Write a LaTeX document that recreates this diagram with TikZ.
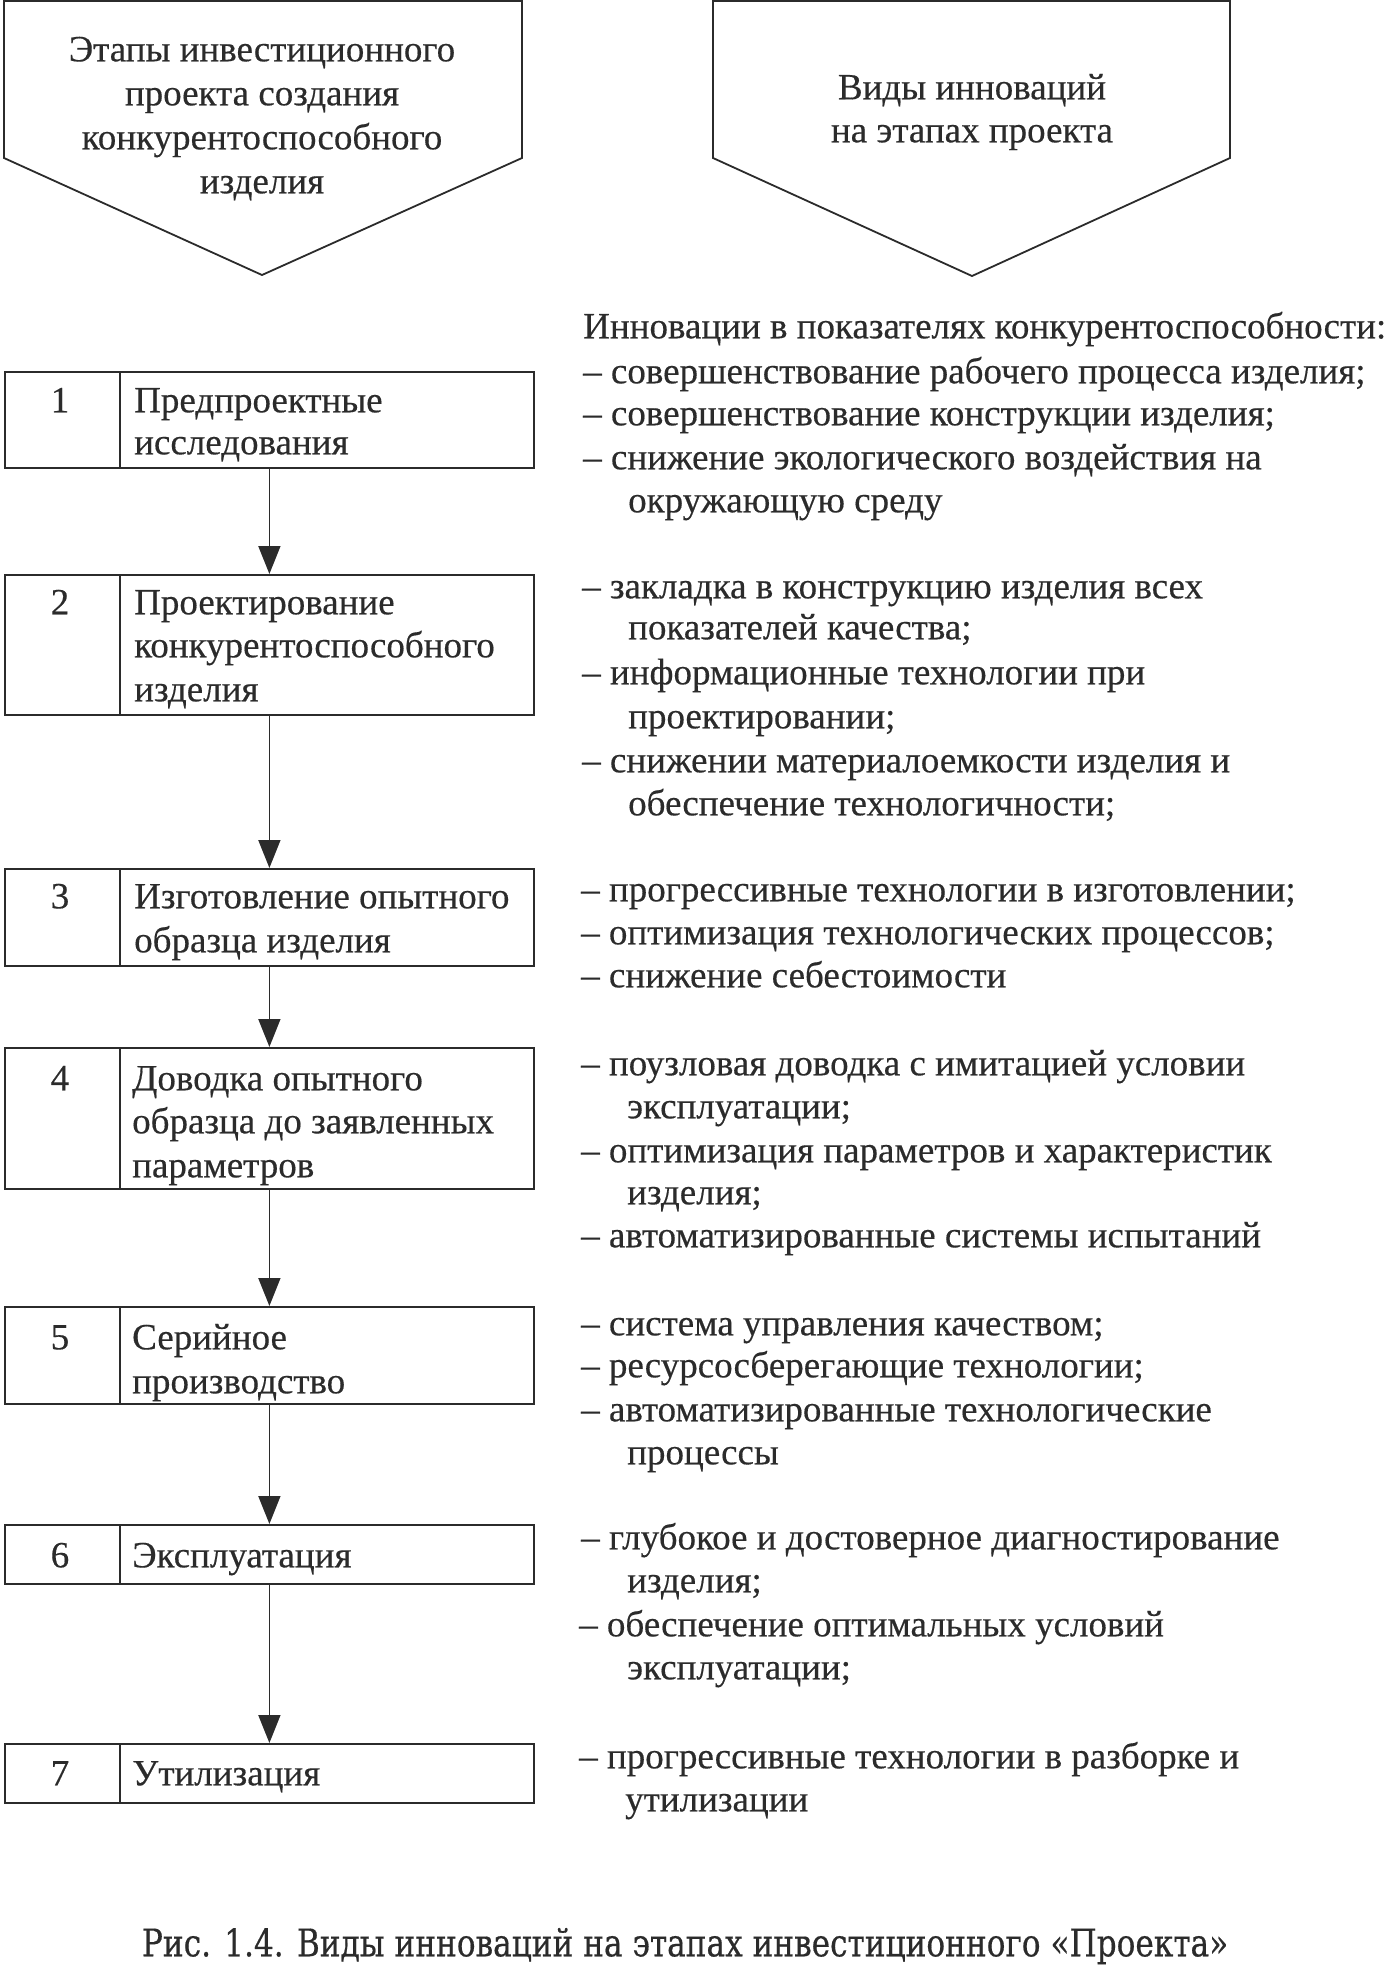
\documentclass[tikz,border=0pt]{standalone}
\usepackage{fontspec}
\setmainfont[FakeBold=0.4]{Liberation Serif}
\newfontfamily\capfont[FakeStretch=0.82,FakeBold=0.5]{DejaVu Serif}
\usetikzlibrary{arrows.meta}
\definecolor{ink}{gray}{0.17}
\begin{document}
\begin{tikzpicture}[x=1pt,y=-1pt,
  every node/.style={text=ink, font=\fontsize{37}{43}\selectfont, inner sep=0pt},
  frame/.style={draw=ink, line width=1.8pt},
  stagebox/.style={frame, minimum width=529pt, anchor=north west},
  lbl/.style={anchor=mid west, yshift=-9pt},
  num/.style={anchor=mid, yshift=-9pt},
  ctr/.style={anchor=mid, yshift=-9pt},
  arr/.style={draw=ink, line width=1.6pt, -{Triangle[length=28pt,width=22pt]}},
]
\useasboundingbox (0,0) rectangle (1387,1979);

% header pentagons
\draw[frame] (4,1) -- (522,1) -- (522,158) -- (262,275) -- (4,158) -- cycle;
\draw[frame] (713,1) -- (1230,1) -- (1230,158) -- (972,276) -- (713,158) -- cycle;
\node[ctr] (h1a) at (262,50) {Этапы инвестиционного};
\node[ctr] (h1b) at (262,94) {проекта создания};
\node[ctr] (h1c) at (262,138) {конкурентоспособного};
\node[ctr] (h1d) at (262,182) {изделия};
\node[ctr] (h2a) at (972,88) {Виды инноваций};
\node[ctr] (h2b) at (972,131) {на этапах проекта};

% stage boxes
\node[stagebox, minimum height=96pt] (b1) at (4,371) {};
\node[stagebox, minimum height=140pt] (b2) at (4,574) {};
\node[stagebox, minimum height=97pt] (b3) at (4,868) {};
\node[stagebox, minimum height=141pt] (b4) at (4,1047) {};
\node[stagebox, minimum height=97pt] (b5) at (4,1306) {};
\node[stagebox, minimum height=59pt] (b6) at (4,1524) {};
\node[stagebox, minimum height=59pt] (b7) at (4,1743) {};
\foreach \b in {b1,b2,b3,b4,b5,b6,b7}
  \draw[frame] ([xshift=116pt]\b.north west) -- ([xshift=116pt]\b.south west);

\node[num] (n1) at (60,401) {1};
\node[num] (n2) at (60,603) {2};
\node[num] (n3) at (60,897) {3};
\node[num] (n4) at (60,1079) {4};
\node[num] (n5) at (60,1338) {5};
\node[num] (n6) at (60,1556) {6};
\node[num] (n7) at (60,1774) {7};

\node[lbl] (s1a) at (134,401) {Предпроектные};
\node[lbl] (s1b) at (134,443) {исследования};
\node[lbl] (s2a) at (134,603) {Проектирование};
\node[lbl] (s2b) at (134,646) {конкурентоспособного};
\node[lbl] (s2c) at (134,690) {изделия};
\node[lbl] (s3a) at (134,897) {Изготовление опытного};
\node[lbl] (s3b) at (134,941) {образца изделия};
\node[lbl] (s4a) at (132,1079) {Доводка опытного};
\node[lbl] (s4b) at (132,1122) {образца до заявленных};
\node[lbl] (s4c) at (132,1166) {параметров};
\node[lbl] (s5a) at (132,1338) {Серийное};
\node[lbl] (s5b) at (132,1382) {производство};
\node[lbl] (s6a) at (132,1556) {Эксплуатация};
\node[lbl] (s7a) at (132,1774) {Утилизация};

% arrows
\draw[arr] (b1.south) -- (b2.north);
\draw[arr] (b2.south) -- (b3.north);
\draw[arr] (b3.south) -- (b4.north);
\draw[arr] (b4.south) -- (b5.north);
\draw[arr] (b5.south) -- (b6.north);
\draw[arr] (b6.south) -- (b7.north);

% innovations text
\node[lbl] (r0) at (583,327) {Инновации в показателях конкурентоспособности:};
\node[lbl] (r1a) at (583,372) {– совершенствование рабочего процесса изделия;};
\node[lbl] (r1b) at (583,414) {– совершенствование конструкции изделия;};
\node[lbl] (r1c) at (583,458) {– снижение экологического воздействия на};
\node[lbl] (r1d) at (628,501) {окружающую среду};

\node[lbl] (r2a) at (582,587) {– закладка в конструкцию изделия всех};
\node[lbl] (r2b) at (628,628) {показателей качества;};
\node[lbl] (r2c) at (582,673) {– информационные технологии при};
\node[lbl] (r2d) at (628,717) {проектировании;};
\node[lbl] (r2e) at (582,761) {– снижении материалоемкости изделия и};
\node[lbl] (r2f) at (628,804) {обеспечение технологичности;};

\node[lbl] (r3a) at (581,890) {– прогрессивные технологии в изготовлении;};
\node[lbl] (r3b) at (581,933) {– оптимизация технологических процессов;};
\node[lbl] (r3c) at (581,976) {– снижение себестоимости};

\node[lbl] (r4a) at (581,1064) {– поузловая доводка с имитацией условии};
\node[lbl] (r4b) at (627,1107) {эксплуатации;};
\node[lbl] (r4c) at (581,1151) {– оптимизация параметров и характеристик};
\node[lbl] (r4d) at (627,1193) {изделия;};
\node[lbl] (r4e) at (581,1236) {– автоматизированные системы испытаний};

\node[lbl] (r5a) at (581,1324) {– система управления качеством;};
\node[lbl] (r5b) at (581,1366) {– ресурсосберегающие технологии;};
\node[lbl] (r5c) at (581,1410) {– автоматизированные технологические};
\node[lbl] (r5d) at (627,1453) {процессы};

\node[lbl] (r6a) at (581,1538) {– глубокое и достоверное диагностирование};
\node[lbl] (r6b) at (627,1581) {изделия;};
\node[lbl] (r6c) at (579,1625) {– обеспечение оптимальных условий};
\node[lbl] (r6d) at (627,1668) {эксплуатации;};

\node[lbl] (r7a) at (579,1757) {– прогрессивные технологии в разборке и};
\node[lbl] (r7b) at (625,1800) {утилизации};

% caption
\node[ctr, font=\capfont\fontsize{38}{44}\selectfont] (cap) at (685,1945) {Рис. 1.4. Виды инноваций на этапах инвестиционного «Проекта»};
\end{tikzpicture}
\end{document}
